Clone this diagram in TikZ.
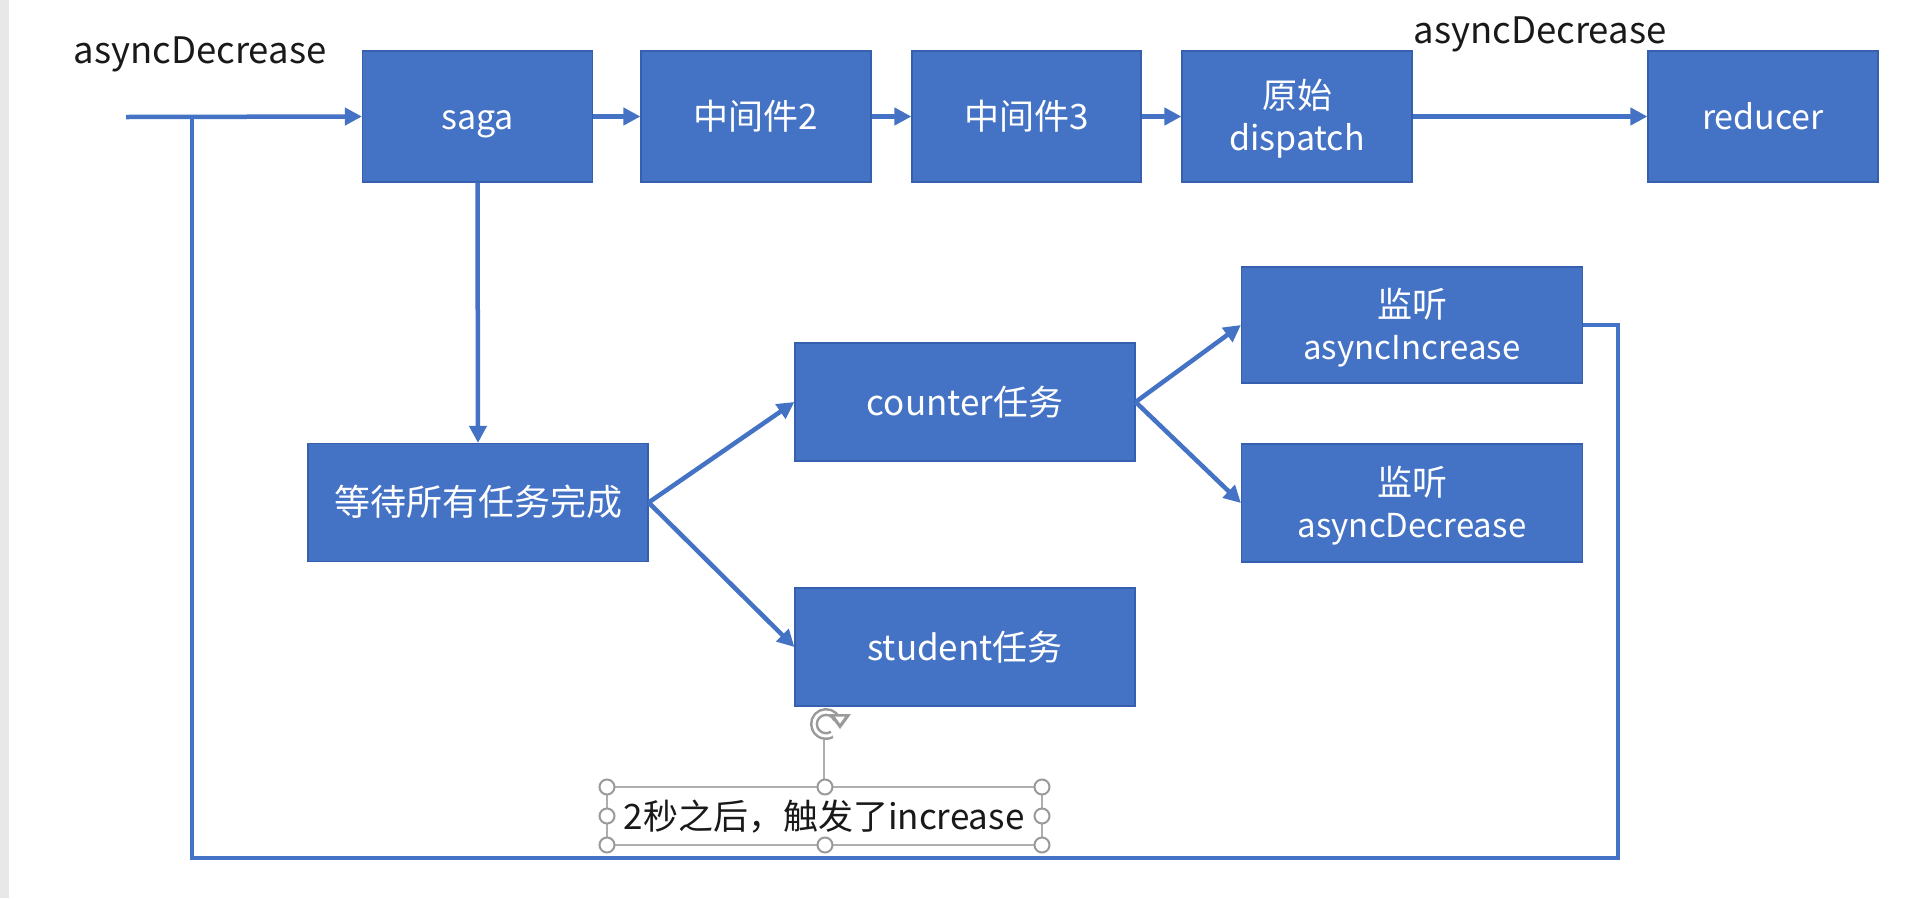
\documentclass[tikz,border=0pt]{standalone}
\usepackage{fontspec}
\setmainfont{Noto Sans CJK SC}
\usetikzlibrary{arrows.meta}
\definecolor{boxblue}{HTML}{4472C4}
\definecolor{boxedge}{HTML}{3660AE}
\definecolor{linkblue}{HTML}{4472C4}
\definecolor{handlegray}{HTML}{9A9A9A}
\begin{document}
\begin{tikzpicture}[x=1pt,y=-1pt,
  blk/.style={draw=boxedge, line width=1.2pt, fill=boxblue, inner sep=0pt},
  btxt/.style={text=white, inner sep=0pt, anchor=base, font=\fontsize{#1}{#1}\selectfont},
  btxt/.default=35,
  lbl/.style={text=black!90, font=\fontsize{36.5}{40}\selectfont, inner sep=0pt, anchor=base},
  flow/.style={draw=linkblue, line width=4.5pt, -{Triangle[length=17pt,width=17pt]}},
  loopline/.style={draw=linkblue, line width=4.5pt, line join=miter},
  handle/.style={draw=handlegray, line width=2pt, fill=white}]
\useasboundingbox (0,0) rectangle (1922,898);
\fill[white] (0,0) rectangle (1922,898);
\fill[gray!18] (0,0) rectangle (9,898);

% top row
\node[blk, minimum width=230pt, minimum height=131pt] (saga) at (477.5,116.5) {};
\node[blk, minimum width=230pt, minimum height=131pt] (mid2) at (756,116.5) {};
\node[blk, minimum width=229pt, minimum height=131pt] (mid3) at (1026.5,116.5) {};
\node[blk, minimum width=230pt, minimum height=131pt] (disp) at (1297,116.5) {};
\node[blk, minimum width=230pt, minimum height=131pt] (red) at (1763,116.5) {};

% lower boxes
\node[blk, minimum width=340pt, minimum height=118pt] (wait) at (478,502.5) {};
\node[blk, minimum width=340pt, minimum height=118pt] (cnt) at (965,402) {};
\node[blk, minimum width=340pt, minimum height=118pt] (stu) at (965,647) {};
\node[blk, minimum width=341pt, minimum height=116pt] (ainc) at (1412,325) {};
\node[blk, minimum width=341pt, minimum height=118pt] (adec) at (1412,503) {};

% box texts
\node[btxt=34] (tsaga) at ([yshift=-13pt]saga.center) {saga};
\node[btxt=35] (tmid2) at ([yshift=-13pt]mid2.center) {中间件2};
\node[btxt=35] (tmid3) at ([yshift=-13pt]mid3.center) {中间件3};
\node[btxt=35] (tdisp1) at ([yshift=8pt]disp.center) {原始};
\node[btxt=34] (tdisp2) at ([yshift=-34pt]disp.center) {dispatch};
\node[btxt=34] (tred) at ([yshift=-13pt]red.center) {reducer};
\node[btxt=36] (twait) at ([yshift=-13pt]wait.center) {等待所有任务完成};
\node[btxt=35] (tcnt) at ([yshift=-13pt]cnt.center) {counter任务};
\node[btxt=35] (tstu) at ([yshift=-13pt]stu.center) {student任务};
\node[btxt=35] (tainc1) at ([yshift=8pt]ainc.center) {监听};
\node[btxt=33] (tainc2) at ([yshift=-34pt]ainc.center) {asyncIncrease};
\node[btxt=35] (tadec1) at ([yshift=8pt]adec.center) {监听};
\node[btxt=33] (tadec2) at ([yshift=-34pt]adec.center) {asyncDecrease};

% labels
\node[lbl] (lblL) at (200,63) {asyncDecrease};
\node[lbl] (lblR) at (1540,43) {asyncDecrease};

% connectors
\coordinate (start) at (126,117);
\draw[flow] (start) -- (saga.west);
\draw[flow] (saga.east) -- (mid2.west);
\draw[flow] (mid2.east) -- (mid3.west);
\draw[flow] (mid3.east) -- (disp.west);
\draw[flow] (disp.east) -- (red.west);
\draw[flow] (saga.south) -- (wait.north);
\draw[flow] (wait.east) -- (cnt.west);
\draw[flow] (wait.east) -- (stu.west);
\draw[flow] (cnt.east) -- (ainc.west);
\draw[flow] (cnt.east) -- (adec.west);

\coordinate (loopR) at (1618,858);
\coordinate (loopL) at (192,858);
\coordinate (join) at (192,117);
\draw[loopline] (ainc.east) -| (loopR) -- (loopL) -- (join);

% note text box with selection frame
\node[text=black!90, font=\fontsize{35}{40}\selectfont, inner sep=0pt, anchor=base] (note) at (824,829.5) {2秒之后，触发了increase};
\draw[handlegray!80, line width=1.2pt] (607,787) rectangle (1042,845);
\coordinate (rot) at (826,724);
\draw[handlegray!80, line width=1.2pt] (824,740) -- (824,787);
\draw[handlegray, line width=8pt] (rot) ++(-25:12) arc[start angle=-25, end angle=-300, radius=12];
\draw[white, line width=3pt] (rot) ++(-25:12) arc[start angle=-25, end angle=-300, radius=12];
\fill[handlegray] (829,714) -- (851,714) -- (840,729) -- cycle;
\fill[white] (835,716.5) -- (845,716.5) -- (840,723.5) -- cycle;
\foreach \p in {(607,787),(825,787),(1042,787),(607,816),(1042,816),(607,845),(825,845),(1042,845)}
  \draw[handle] \p circle (7.5pt);
\end{tikzpicture}
\end{document}
